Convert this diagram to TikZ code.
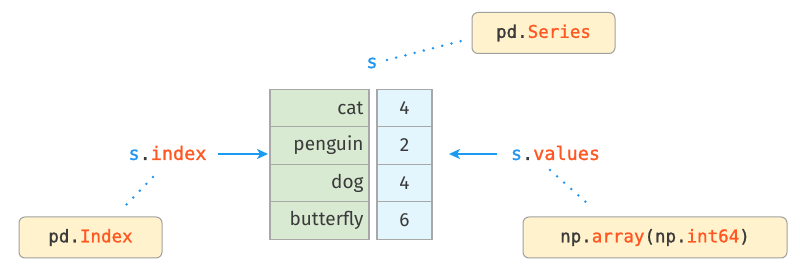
\documentclass[tikz,border=0pt]{standalone}
\usepackage{fontspec}
\setmainfont{Fira Sans}
\setsansfont{Fira Sans}
\setmonofont{DejaVu Sans Mono}
\newfontfamily\codefont{DejaVu Sans Mono}[FakeBold=1.2]
\usetikzlibrary{arrows.meta}
\definecolor{sblue}{HTML}{2196F3}
\definecolor{sorange}{HTML}{FF5722}
\definecolor{sdark}{HTML}{3A3A3A}
\definecolor{arrblue}{HTML}{1A9AF0}
\definecolor{cellline}{HTML}{A8A8A8}
\definecolor{greenfill}{HTML}{D9EAD3}
\definecolor{bluefill}{HTML}{E3F5FD}
\definecolor{boxfill}{HTML}{FFF2CC}
\definecolor{boxline}{HTML}{A0A0A0}
\newcommand{\bl}[1]{\textcolor{sblue}{#1}}
\newcommand{\og}[1]{\textcolor{sorange}{#1}}
\tikzset{
  gcell/.style={draw=cellline, line width=1.2pt, fill=greenfill, minimum height=37.5pt,
    text width=88pt, align=right, inner xsep=5.5pt, inner ysep=0pt,
    font=\fontsize{19}{22}\selectfont, text=sdark},
  vcell/.style={draw=cellline, line width=1.2pt, fill=bluefill, minimum height=37.5pt,
    minimum width=55pt, inner sep=0pt, font=\fontsize{19}{22}\selectfont, text=sdark},
  typebox/.style={draw=boxline, line width=1pt, fill=boxfill, rounded corners=6pt,
    minimum height=41pt, inner sep=0pt, font=\codefont\fontsize{17.5}{20}\selectfont, text=sdark},
  codelbl/.style={inner sep=0pt, font=\codefont\fontsize{18.5}{21}\selectfont, text=sdark},
  arr/.style={draw=arrblue, line width=2pt, -{Stealth[length=11pt,width=10pt,inset=3pt]}},
  dotline/.style={draw=sblue, line width=2.8pt, line cap=round, dash pattern=on 0pt off 9.5pt}
}
\begin{document}
\begin{tikzpicture}[x=1pt,y=-1pt]
\useasboundingbox (0,0) rectangle (800,272);
% table
\node[gcell] (k1) at (319.5,108) {cat};
\node[gcell] (k2) at (319.5,145.5) {penguin};
\node[gcell] (k3) at (319.5,183) {dog};
\node[gcell] (k4) at (319.5,220.5) {butterfly};
\node[vcell] (v1) at (404.5,108) {4};
\node[vcell] (v2) at (404.5,145.5) {2};
\node[vcell] (v3) at (404.5,183) {4};
\node[vcell] (v4) at (404.5,220.5) {6};
% type boxes
\node[typebox, minimum width=143pt] (series) at (543.5,33) {pd.\og{Series}};
\node[typebox, minimum width=143pt] (index) at (90.5,237.5) {pd.\og{Index}};
\node[typebox, minimum width=264pt] (array) at (655,237.5) {np.\og{array}(np.\og{int64})};
% code labels
\node[codelbl] (s) at (372,63) {\bl{s}};
\node[codelbl] (sidx) at (167.5,153) {\bl{s}.\og{index}};
\node[codelbl] (sval) at (555.5,153) {\bl{s}.\og{values}};
% arrows
\coordinate (ia0) at (218,154);
\coordinate (ia1) at (268,154);
\coordinate (va0) at (497,154);
\coordinate (va1) at (449,154);
\draw[arr] (ia0) -- (ia1);
\draw[arr] (va0) -- (va1);
% dotted leaders
\coordinate (d1a) at (387,60);
\coordinate (d1b) at (465,40);
\coordinate (d2a) at (153,177);
\coordinate (d2b) at (124,207);
\coordinate (d3a) at (550,170);
\coordinate (d3b) at (588,204);
\draw[dotline] (d1a) -- (d1b);
\draw[dotline] (d2a) -- (d2b);
\draw[dotline] (d3a) -- (d3b);
\end{tikzpicture}
\end{document}
